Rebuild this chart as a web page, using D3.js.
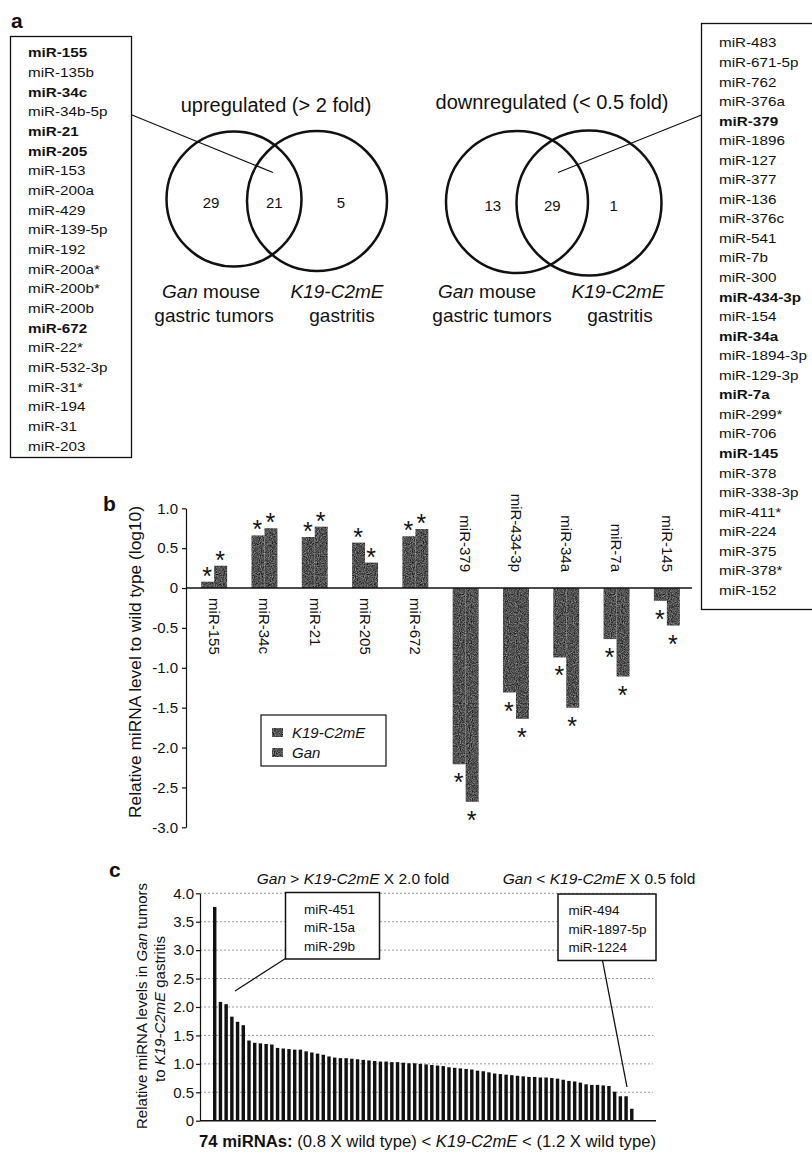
<!DOCTYPE html>
<html>
<head>
<meta charset="utf-8">
<script src="https://cdn.jsdelivr.net/npm/d3@7"></script>
<style>
  body { margin: 0; background: #fff; }
  text { font-family: "Liberation Sans", Arial, Helvetica, sans-serif; fill: #111; }
</style>
</head>
<body>
<svg id="fig" width="812" height="1154"></svg>
<script>
// ---- panel a data
const upList = ["miR-155", "miR-135b", "miR-34c", "miR-34b-5p", "miR-21", "miR-205", "miR-153",
  "miR-200a", "miR-429", "miR-139-5p", "miR-192", "miR-200a*", "miR-200b*", "miR-200b", "miR-672",
  "miR-22*", "miR-532-3p", "miR-31*", "miR-194", "miR-31", "miR-203"];
const downList = ["miR-483", "miR-671-5p", "miR-762", "miR-376a", "miR-379", "miR-1896", "miR-127",
  "miR-377", "miR-136", "miR-376c", "miR-541", "miR-7b", "miR-300", "miR-434-3p", "miR-154", "miR-34a",
  "miR-1894-3p", "miR-129-3p", "miR-7a", "miR-299*", "miR-706", "miR-145", "miR-378", "miR-338-3p",
  "miR-411*", "miR-224", "miR-375", "miR-378*", "miR-152"];
const vennUp = [29, 21, 5];
const vennDown = [13, 29, 1];

// ---- panel b data
const bGenes = ["miR-155", "miR-34c", "miR-21", "miR-205", "miR-672", "miR-379", "miR-434-3p", "miR-34a", "miR-7a", "miR-145"];
const bK19 = [0.08, 0.66, 0.64, 0.57, 0.65, -2.21, -1.31, -0.87, -0.64, -0.16];
const bGan = [0.28, 0.75, 0.77, 0.32, 0.74, -2.68, -1.64, -1.50, -1.11, -0.47];
const bTicks = [1.0, 0.5, 0, -0.5, -1.0, -1.5, -2.0, -2.5, -3.0];

// ---- panel c data (74 miRNAs, sorted)
const cValues = [3.76, 2.09, 2.05, 1.83, 1.74, 1.68, 1.41, 1.37, 1.36, 1.35,
  1.34, 1.28, 1.27, 1.26, 1.25, 1.25, 1.22, 1.20, 1.18, 1.16,
  1.13, 1.11, 1.10, 1.10, 1.09, 1.08, 1.07, 1.06, 1.05, 1.04,
  1.04, 1.03, 1.03, 1.02, 1.01, 1.01, 1.00, 0.99, 0.98, 0.97,
  0.96, 0.94, 0.93, 0.92, 0.91, 0.90, 0.88, 0.87, 0.85, 0.83,
  0.82, 0.81, 0.80, 0.79, 0.78, 0.77, 0.77, 0.76, 0.76, 0.75,
  0.74, 0.72, 0.70, 0.69, 0.67, 0.64, 0.63, 0.63, 0.62, 0.61,
  0.51, 0.43, 0.43, 0.21];
const cTicks = [0, 0.5, 1.0, 1.5, 2.0, 2.5, 3.0, 3.5, 4.0];
const cBoxLeft = ["miR-451", "miR-15a", "miR-29b"];
const cBoxRight = ["miR-494", "miR-1897-5p", "miR-1224"];

const svg = d3.select("#fig");
const INK = "#111";

// grainy dark grey fill like the scanned bars
const grain = svg.append("defs").append("filter").attr("id", "grain")
  .attr("x", 0).attr("y", 0).attr("width", 1).attr("height", 1)
  .attr("color-interpolation-filters", "sRGB");
grain.append("feTurbulence").attr("type", "fractalNoise").attr("baseFrequency", 0.9)
  .attr("numOctaves", 2).attr("seed", 4).attr("result", "n");
grain.append("feColorMatrix").attr("in", "n").attr("type", "matrix")
  .attr("values", "0.8 0 0 0 -0.08  0.8 0 0 0 -0.08  0.8 0 0 0 -0.08  0 0 0 0 1").attr("result", "g");
grain.append("feComposite").attr("in", "g").attr("in2", "SourceGraphic").attr("operator", "in");

// widen text horizontally (the scanned lists are wider than Arial)
function stretch(sel, k) {
  sel.each(function () {
    const w = this.getComputedTextLength();
    d3.select(this).attr("textLength", w * k).attr("lengthAdjust", "spacingAndGlyphs");
  });
}

function panelLetter(t, x, y) {
  svg.append("text").attr("x", x).attr("y", y)
    .attr("font-size", 21).attr("font-weight", "bold").text(t);
}

// =============== panel a
panelLetter("a", 11, 28);

function drawList(items, x, y0, step, box) {
  svg.append("rect")
    .attr("x", box[0]).attr("y", box[1]).attr("width", box[2]).attr("height", box[3])
    .attr("fill", "none").attr("stroke", INK).attr("stroke-width", 1.3);
  svg.append("g").selectAll("text")
    .data(items)
    .join("text")
    .attr("x", x)
    .attr("y", (d, i) => y0 + i * step + 4.7)
    .attr("font-size", 13)
    .attr("font-weight", d => bGenes.includes(d) ? "bold" : null)
    .text(d => d)
    .call(stretch, 1.17);
}

drawList(upList, 28, 52.7, 19.66, [10.5, 36.5, 121, 421]);
drawList(downList, 719, 42.7, 19.55, [701.5, 23.5, 130, 586]);

function drawVenn(counts, c1, c2, title, titleX, titleY, lab) {
  svg.append("text").attr("x", titleX).attr("y", titleY)
    .attr("text-anchor", "middle").attr("font-size", 20).text(title);

  svg.append("g").selectAll("circle")
    .data([c1, c2])
    .join("circle")
    .attr("cx", d => d[0]).attr("cy", d => d[1]).attr("r", d => d[2])
    .attr("fill", "none").attr("stroke", INK).attr("stroke-width", 2.5);

  const midX = [c1[0] - c1[2] * 0.34, (c1[0] + c1[2] + c2[0] - c2[2]) / 2, c2[0] + c2[2] * 0.34];
  svg.append("g").selectAll("text")
    .data(counts)
    .join("text")
    .attr("x", (d, i) => midX[i])
    .attr("y", (c1[1] + c2[1]) / 2 + 8)
    .attr("text-anchor", "middle").attr("font-size", 15)
    .text(d => d);

  const l1 = svg.append("text").attr("x", lab[0]).attr("y", 298)
    .attr("text-anchor", "middle").attr("font-size", 19);
  l1.append("tspan").attr("font-style", "italic").text("Gan");
  l1.append("tspan").text(" mouse");
  svg.append("text").attr("x", lab[1]).attr("y", 322)
    .attr("text-anchor", "middle").attr("font-size", 19).text("gastric tumors");
  svg.append("text").attr("x", lab[2]).attr("y", 298)
    .attr("text-anchor", "middle").attr("font-size", 19).attr("font-style", "italic").text("K19-C2mE");
  svg.append("text").attr("x", lab[3]).attr("y", 322)
    .attr("text-anchor", "middle").attr("font-size", 19).text("gastritis");
}

drawVenn(vennUp, [234, 199, 67.5], [317, 201, 70], "upregulated (> 2 fold)", 276, 112, [211, 214, 337, 342]);
drawVenn(vennDown, [517, 202, 71], [589, 203, 72.5], "downregulated (< 0.5 fold)", 552, 109, [487, 492, 618, 620]);

// leader lines from the lists to the overlaps
svg.append("line").attr("x1", 132).attr("y1", 115).attr("x2", 273).attr("y2", 172.5)
  .attr("stroke", INK).attr("stroke-width", 1.2);
svg.append("line").attr("x1", 558).attr("y1", 172.5).attr("x2", 701.5).attr("y2", 115)
  .attr("stroke", INK).attr("stroke-width", 1.2);

// =============== panel b
panelLetter("b", 103, 511);

const yB = d3.scaleLinear().domain([-3, 1]).range([827.3, 508.3]);
const x0B = d3.scaleBand().domain(bGenes).range([189, 692]).paddingInner(0.4836).paddingOuter(0.2418);
const x1B = d3.scaleBand().domain(["K19", "Gan"]).range([0, x0B.bandwidth()]);
const barColor = { K19: "#555", Gan: "#4a4a4a" };

const rowsB = bGenes.map((g, i) => ({ gene: g, vals: [{ key: "K19", v: bK19[i] }, { key: "Gan", v: bGan[i] }] }));

const gB = svg.append("g");
const groups = gB.selectAll("g.grp")
  .data(rowsB)
  .join("g")
  .attr("class", "grp")
  .attr("transform", d => "translate(" + x0B(d.gene) + ",0)");

groups.selectAll("rect")
  .data(d => d.vals)
  .join("rect")
  .attr("x", d => x1B(d.key))
  .attr("y", d => yB(Math.max(0, d.v)))
  .attr("width", x1B.bandwidth())
  .attr("height", d => Math.abs(yB(d.v) - yB(0)))
  .attr("fill", d => barColor[d.key])
  .attr("filter", "url(#grain)");

groups.selectAll("text.star")
  .data(d => d.vals)
  .join("text")
  .attr("class", "star")
  .attr("x", d => x1B(d.key) + x1B.bandwidth() / 2 - 0.5)
  .attr("y", d => d.v >= 0 ? yB(d.v) + 3 : yB(d.v) + 27)
  .attr("text-anchor", "middle").attr("font-size", 25)
  .text("*");

// rotated gene labels
gB.selectAll("text.gene")
  .data(rowsB)
  .join("text")
  .attr("class", "gene")
  .attr("transform", d => {
    const cx = x0B(d.gene) + x0B.bandwidth() / 2;
    const yy = d.vals[0].v >= 0 ? yB(0) + 10 : yB(0) - 16;
    return "translate(" + cx + "," + yy + ") rotate(90)";
  })
  .attr("dy", "0.35em")
  .attr("text-anchor", d => d.vals[0].v >= 0 ? "start" : "end")
  .attr("font-size", 15)
  .text(d => d.gene);

// zero line
gB.append("line").attr("x1", 186).attr("x2", 692).attr("y1", yB(0)).attr("y2", yB(0))
  .attr("stroke", INK).attr("stroke-width", 1.6);

// y axis
const axB = svg.append("g")
  .attr("transform", "translate(186,0)")
  .call(d3.axisLeft(yB).tickValues(bTicks).tickSize(4).tickSizeOuter(0).tickPadding(4)
    .tickFormat(d => d === 0 ? "0" : d.toFixed(1)));
axB.selectAll("text").attr("font-size", 15).attr("font-family", null).attr("fill", INK);
axB.selectAll("line, path").attr("stroke", INK).attr("stroke-width", 1.2);

svg.append("text")
  .attr("transform", "translate(135,662) rotate(-90)")
  .attr("dy", "0.35em")
  .attr("text-anchor", "middle").attr("font-size", 16)
  .attr("textLength", 312).attr("lengthAdjust", "spacingAndGlyphs")
  .text("Relative miRNA level to wild type (log10)");

// legend
const leg = svg.append("g");
leg.append("rect").attr("x", 261).attr("y", 715).attr("width", 125).attr("height", 51)
  .attr("fill", "#fff").attr("stroke", INK).attr("stroke-width", 1.2);
leg.selectAll("rect.sw")
  .data(["K19", "Gan"])
  .join("rect")
  .attr("class", "sw")
  .attr("x", 272).attr("y", (d, i) => 728 + i * 20)
  .attr("width", 11).attr("height", 9)
  .attr("fill", d => barColor[d])
  .attr("filter", "url(#grain)");
leg.selectAll("text")
  .data(["K19-C2mE", "Gan"])
  .join("text")
  .attr("x", 292).attr("y", (d, i) => 738 + i * 20)
  .attr("font-size", 15).attr("font-style", "italic")
  .text(d => d);

// =============== panel c
panelLetter("c", 109, 877);

const yC = d3.scaleLinear().domain([0, 4]).range([1120.7, 893.3]);
const xC = d3.scaleBand().domain(d3.range(cValues.length)).range([213, 633.5]).paddingInner(0.4);

// dotted gridlines
svg.append("g").selectAll("line")
  .data(cTicks.filter(t => t > 0))
  .join("line")
  .attr("x1", 200).attr("x2", 653)
  .attr("y1", d => yC(d)).attr("y2", d => yC(d))
  .attr("stroke", "#999").attr("stroke-width", 1).attr("stroke-dasharray", "2,2");

svg.append("g").selectAll("rect")
  .data(cValues)
  .join("rect")
  .attr("x", (d, i) => xC(i))
  .attr("y", d => yC(d))
  .attr("width", xC.bandwidth())
  .attr("height", d => yC(0) - yC(d))
  .attr("fill", "#111");

const axC = svg.append("g")
  .attr("transform", "translate(200,0)")
  .call(d3.axisLeft(yC).tickValues(cTicks).tickSize(4).tickSizeOuter(0).tickPadding(2)
    .tickFormat(d => d === 0 ? "0" : d.toFixed(1)));
axC.selectAll("text").attr("font-size", 15).attr("font-family", null).attr("fill", INK);
axC.selectAll("line, path").attr("stroke", INK).attr("stroke-width", 1.2);

svg.append("line").attr("x1", 200).attr("x2", 656).attr("y1", yC(0)).attr("y2", yC(0))
  .attr("stroke", INK).attr("stroke-width", 1.6);

// titles above panel c
function foldTitle(cx, sign, fold) {
  const t = svg.append("text").attr("x", cx).attr("y", 884)
    .attr("text-anchor", "middle").attr("font-size", 15.5);
  t.append("tspan").attr("font-style", "italic").text("Gan");
  t.append("tspan").text(" " + sign + " ");
  t.append("tspan").attr("font-style", "italic").text("K19-C2mE");
  t.append("tspan").text(" X " + fold + " fold");
}
foldTitle(353, ">", "2.0");
foldTitle(599, "<", "0.5");

function noteBox(items, box, tx, line) {
  svg.append("line").attr("x1", line[0]).attr("y1", line[1]).attr("x2", line[2]).attr("y2", line[3])
    .attr("stroke", INK).attr("stroke-width", 1.3);
  svg.append("rect").attr("x", box[0]).attr("y", box[1]).attr("width", box[2]).attr("height", box[3])
    .attr("fill", "#fff").attr("stroke", INK).attr("stroke-width", 1.5);
  svg.append("g").selectAll("text")
    .data(items)
    .join("text")
    .attr("x", tx).attr("y", (d, i) => box[1] + 21 + i * 18.5)
    .attr("font-size", 13.5)
    .text(d => d);
}
noteBox(cBoxLeft, [285.5, 892.5, 94, 66.5], 304, [285.5, 958.5, 235, 991]);
noteBox(cBoxRight, [558, 894, 98, 66.5], 568.5, [602.5, 960.5, 627, 1087]);

// panel c y title (two lines)
const yt = svg.append("text")
  .attr("transform", "translate(142,1006) rotate(-90)")
  .attr("dy", "0.35em")
  .attr("text-anchor", "middle").attr("font-size", 15);
yt.append("tspan").text("Relative miRNA levels in ");
yt.append("tspan").attr("font-style", "italic").text("Gan");
yt.append("tspan").text(" tumors");
const yt2 = svg.append("text")
  .attr("transform", "translate(160,1009) rotate(-90)")
  .attr("dy", "0.35em")
  .attr("text-anchor", "middle").attr("font-size", 15);
yt2.append("tspan").text("to ");
yt2.append("tspan").attr("font-style", "italic").text("K19-C2mE");
yt2.append("tspan").text(" gastritis");

// bottom label
const bl = svg.append("text").attr("x", 427.5).attr("y", 1147)
  .attr("text-anchor", "middle").attr("font-size", 16)
  .attr("textLength", 457).attr("lengthAdjust", "spacingAndGlyphs");
bl.append("tspan").attr("font-weight", "bold").text("74 miRNAs:");
bl.append("tspan").text(" (0.8 X wild type) < ");
bl.append("tspan").attr("font-style", "italic").text("K19-C2mE");
bl.append("tspan").text(" < (1.2 X wild type)");
</script>
</body>
</html>
